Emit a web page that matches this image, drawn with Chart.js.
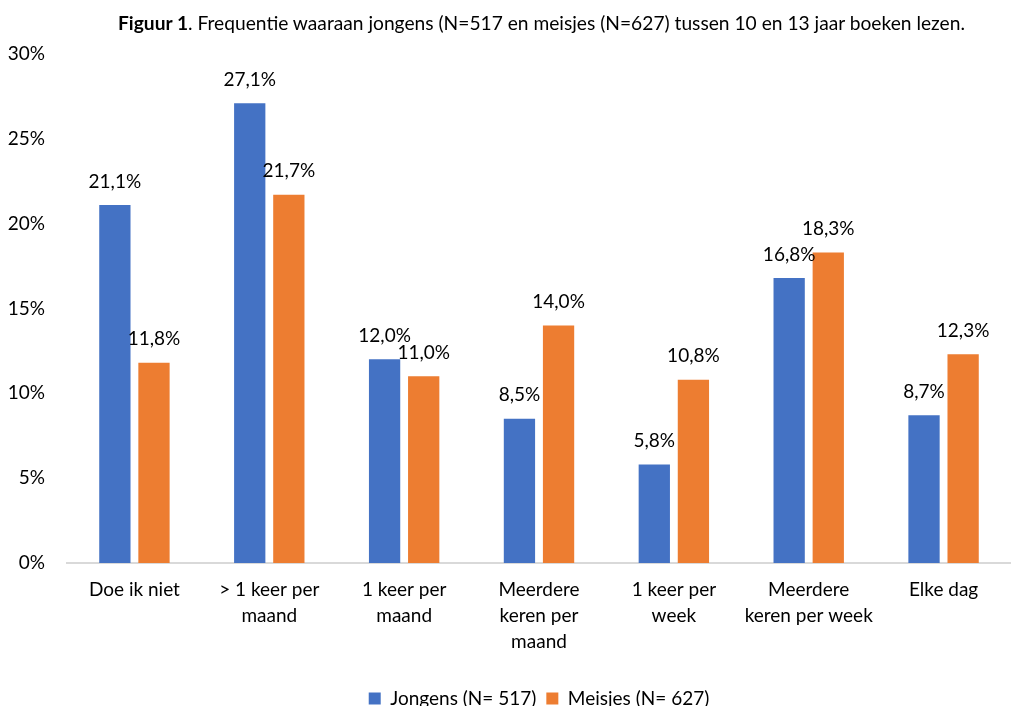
<!DOCTYPE html>
<html>
<head>
<meta charset="utf-8">
<script src="https://cdn.jsdelivr.net/npm/chart.js@4"></script>
<style>
  html, body { margin: 0; padding: 0; background: #fff; }
  #wrap { position: relative; width: 1011px; height: 706px; overflow: hidden; }
  #title {
    position: absolute; left: 0; top: 11px; width: 1011px; padding-left: 72px; box-sizing: border-box;
    text-align: center; font-family: Lato, sans-serif; font-size: 19.2px; color: #000;
    white-space: nowrap;
  }
  canvas { position: absolute; left: 0; top: 0; }
</style>
</head>
<body>
<div id="wrap">
  <canvas id="chart" width="1011" height="718"></canvas>
  <div id="title"><b>Figuur 1</b>. Frequentie waaraan jongens (N=517 en meisjes (N=627) tussen 10 en 13 jaar boeken lezen.</div>
</div>
<script>
'use strict';

const categories = [
  ['Doe ik niet'],
  ['> 1 keer per', 'maand'],
  ['1 keer per', 'maand'],
  ['Meerdere', 'keren per', 'maand'],
  ['1 keer per', 'week'],
  ['Meerdere', 'keren per week'],
  ['Elke dag']
];
const seriesNames = ['Jongens (N= 517)', 'Meisjes (N= 627)'];
const jongens = [21.1, 27.1, 12.0, 8.5, 5.8, 16.8, 8.7];
const meisjes = [11.8, 21.7, 11.0, 14.0, 10.8, 18.3, 12.3];
const yTicks = [0, 5, 10, 15, 20, 25, 30];

const FONT = 'Lato, sans-serif';
const FS = 19;

function pct(v) {
  return v.toFixed(1).replace('.', ',') + '%';
}

// draws the value above each bar
const barLabels = {
  id: 'barLabels',
  afterDatasetsDraw(chart) {
    const ctx = chart.ctx;
    ctx.save();
    ctx.font = FS + 'px ' + FONT;
    ctx.fillStyle = '#000';
    ctx.textAlign = 'center';
    ctx.textBaseline = 'bottom';
    chart.data.datasets.forEach((ds, i) => {
      chart.getDatasetMeta(i).data.forEach((bar, j) => {
        ctx.fillText(pct(ds.data[j]), bar.x, bar.y - 14);
      });
    });
    ctx.restore();
  }
};

new Chart(document.getElementById('chart').getContext('2d'), {
  type: 'bar',
  data: {
    labels: categories,
    datasets: [
      { label: seriesNames[0], data: jongens, backgroundColor: '#4472C4' },
      { label: seriesNames[1], data: meisjes, backgroundColor: '#ED7D31' }
    ]
  },
  options: {
    responsive: false,
    animation: false,
    layout: { padding: { top: 54, left: 0, right: 0, bottom: 0 } },
    datasets: { bar: { categoryPercentage: 0.58, barPercentage: 0.8 } },
    plugins: {
      title: { display: false },
      tooltip: { enabled: false },
      legend: {
        position: 'bottom',
        fullSize: false,
        labels: {
          boxWidth: 12, boxHeight: 12, padding: 10,
          color: '#000', font: { family: FONT, size: FS }
        }
      }
    },
    scales: {
      x: {
        grid: { display: false },
        border: { display: true, color: '#d9d9d9', width: 2 },
        ticks: {
          color: '#000', font: { family: FONT, size: FS, lineHeight: 1.37 },
          maxRotation: 0, autoSkip: false, padding: 6
        },
        afterFit(axis) { axis.height += 18; }
      },
      y: {
        min: 0, max: 30,
        afterBuildTicks(axis) { axis.ticks = yTicks.map(v => ({ value: v })); },
        afterFit(axis) { axis.width = 67; },
        grid: { display: false },
        border: { display: false },
        ticks: { color: '#000', font: { family: FONT, size: FS }, padding: 14, callback: v => v + '%' }
      }
    }
  },
  plugins: [barLabels]
});
</script>
</body>
</html>
